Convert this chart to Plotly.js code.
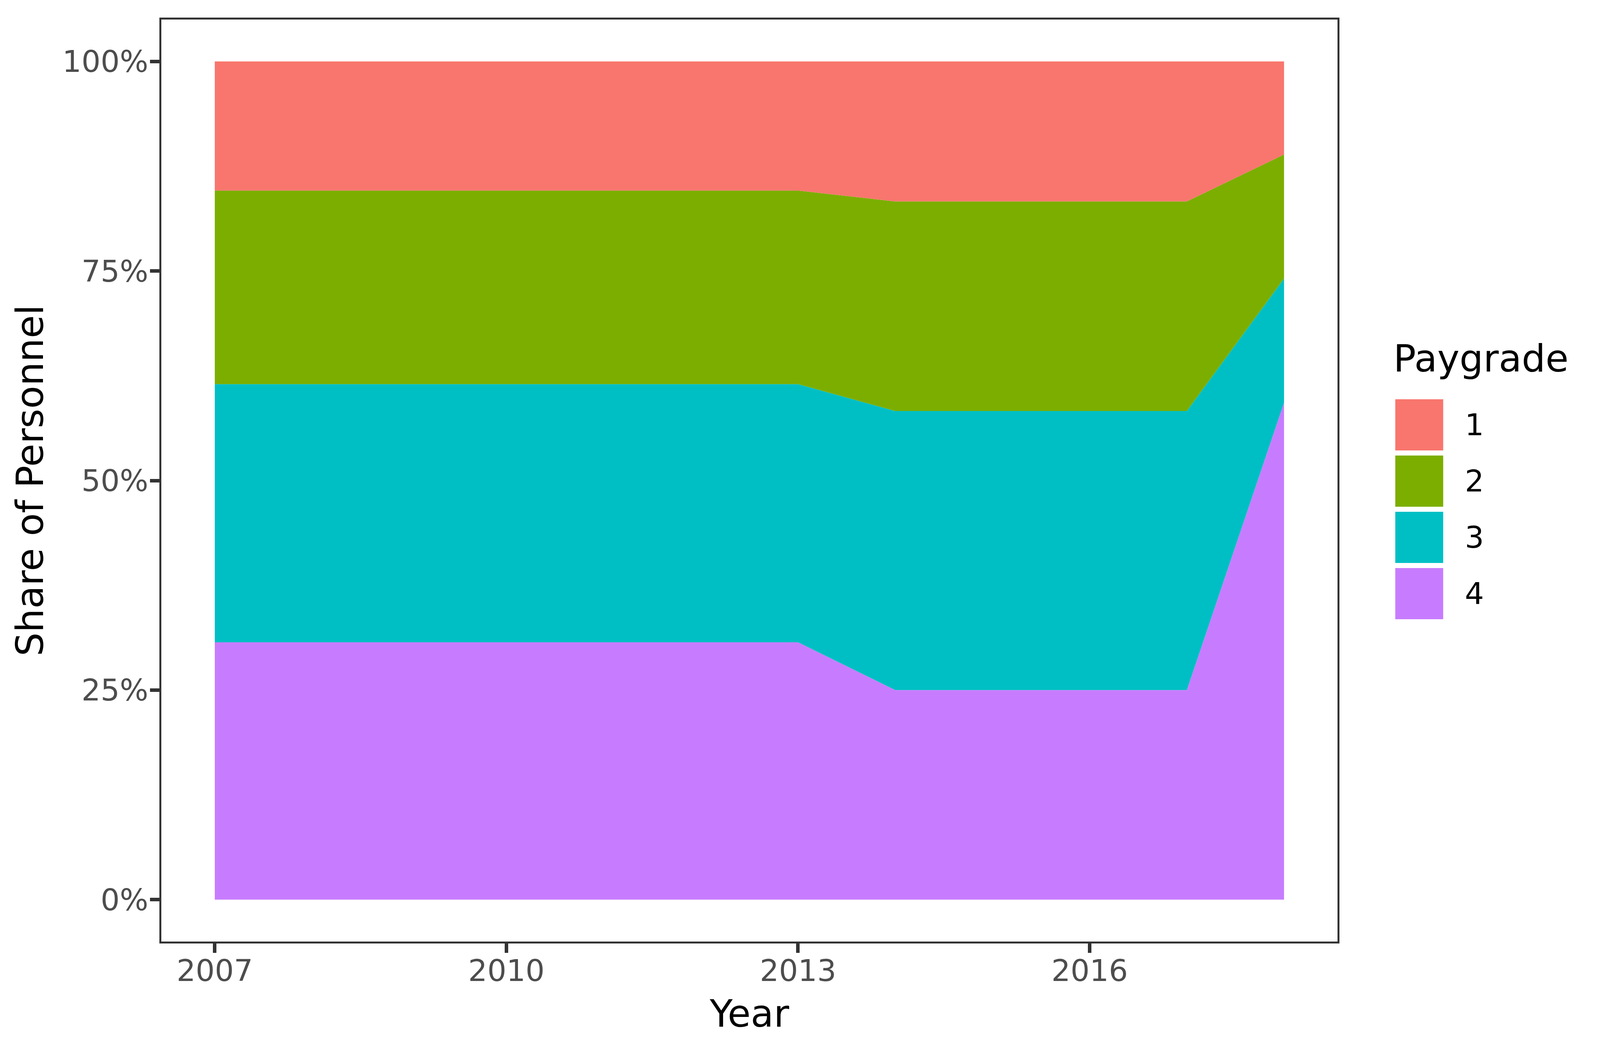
<!DOCTYPE html>
<html><head><meta charset="utf-8">
<script src="https://cdn.plot.ly/plotly-3.0.1.min.js"></script>
<style>html,body{margin:0;padding:0;background:#fff;overflow:hidden;}</style>
</head><body><div id="chart"></div>
<script>
// ---- data ----
const years = [2007,2008,2009,2010,2011,2012,2013,2014,2015,2016,2017,2018];
const paygrades = ['1','2','3','4'];
const share1 = [15.4,15.4,15.4,15.4,15.4,15.4,15.4,16.7,16.7,16.7,16.7,11.1];
const share2 = [23.1,23.1,23.1,23.1,23.1,23.1,23.1,25.0,25.0,25.0,25.0,14.8];
const share3 = [30.8,30.8,30.8,30.8,30.8,30.8,30.8,33.3,33.3,33.3,33.3,14.8];
const share4 = [30.7,30.7,30.7,30.7,30.7,30.7,30.7,25.0,25.0,25.0,25.0,59.3];
const xTicks = [2007,2010,2013,2016];
const yTicks = [0,25,50,75,100];
const yTickLabels = ['0%','25%','50%','75%','100%'];
const colors = {'1':'#F8766D','2':'#7CAE00','3':'#00BFC4','4':'#C77CFF'};
const shares = {'1':share1,'2':share2,'3':share3,'4':share4};

// ---- layout geometry (reference pixels, scaled to the actual viewport) ----
const REF_W = 4375, REF_H = 2703;
const W = Math.min(window.innerWidth || REF_W, REF_W);
const H = window.innerHeight || REF_H;
const sx = W / REF_W, sy = H / REF_H;
const L = 441 * sx, R = 3657 * sx, T = 50 * sy, B = 2410 * sy;
const pw = R - L, ph = B - T;
const px2x = X => (X * sx - L) / pw;
const px2y = Y => (B - Y * sy) / ph;
const FONT = 'DejaVu Sans, Verdana, sans-serif';
document.getElementById('chart').style.width = W + 'px';
document.getElementById('chart').style.height = H + 'px';

// stack bottom-up: 4, 3, 2, 1
const traces = ['4','3','2','1'].map(g => ({
  type: 'scatter', x: years, y: shares[g], name: g,
  stackgroup: 'one', mode: 'lines', line: {width: 0, color: colors[g]},
  fillcolor: colors[g], hoverinfo: 'x+y+name', showlegend: false
}));

// manual legend (ggplot style)
const shapes = [], annotations = [];
const keyX0 = 3815, keySize = 131, keyTop0 = 1022, keyStep = 144;
paygrades.forEach((g, i) => {
  const top = keyTop0 + i * keyStep;
  shapes.push({type: 'rect', xref: 'paper', yref: 'paper',
    x0: px2x(keyX0), x1: px2x(keyX0 + keySize), y0: px2y(top + keySize), y1: px2y(top),
    fillcolor: colors[g], line: {width: 0}});
  annotations.push({xref: 'paper', yref: 'paper', x: px2x(4003), y: px2y(top + keySize / 2),
    xanchor: 'left', yanchor: 'middle', showarrow: false, text: g,
    font: {family: FONT, size: 77, color: '#000000'}});
});
annotations.push({xref: 'paper', yref: 'paper', x: px2x(3808), y: px2y(918),
  xanchor: 'left', yanchor: 'middle', showarrow: false, text: 'Paygrade',
  font: {family: FONT, size: 96, color: '#000000'}});

const layout = {
  width: W, height: H,
  margin: {l: L, r: W - R, t: T, b: H - B, pad: 0},
  paper_bgcolor: '#ffffff', plot_bgcolor: '#ffffff',
  showlegend: false,
  font: {family: FONT},
  xaxis: {
    range: [2006.45, 2018.55], tickvals: xTicks, ticktext: xTicks.map(String),
    showgrid: false, zeroline: false, showline: true, mirror: true,
    linecolor: '#333333', linewidth: 5,
    ticks: 'outside', ticklen: 24, tickwidth: 9, tickcolor: '#333333',
    ticklabelstandoff: -20,
    tickfont: {family: FONT, size: 77, color: '#4D4D4D'},
    title: {text: 'Year', font: {family: FONT, size: 96, color: '#000000'}, standoff: 34},
    automargin: false
  },
  yaxis: {
    range: [-5, 105], tickvals: yTicks, ticktext: yTickLabels,
    showgrid: false, zeroline: false, showline: true, mirror: true,
    linecolor: '#333333', linewidth: 5,
    ticks: 'outside', ticklen: 24, tickwidth: 9, tickcolor: '#333333',
    ticklabelstandoff: -11,
    tickfont: {family: FONT, size: 77, color: '#4D4D4D'},
    title: {text: 'Share of Personnel', font: {family: FONT, size: 96, color: '#000000'}, standoff: 18},
    automargin: false
  },
  shapes: shapes, annotations: annotations
};

Plotly.newPlot('chart', traces, layout, {displayModeBar: false, responsive: false});
</script></body></html>
